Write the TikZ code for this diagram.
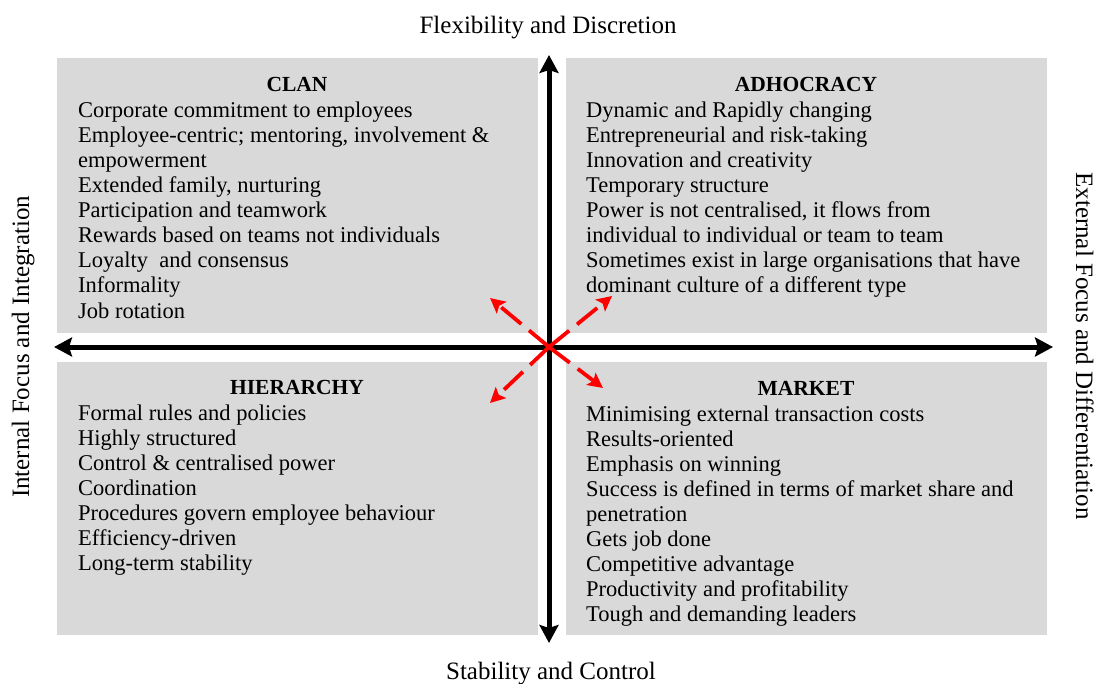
\documentclass[tikz,border=0pt]{standalone}
\usepackage{fontspec}
\setmainfont{Liberation Serif}
\usetikzlibrary{arrows.meta}

\definecolor{panelgray}{HTML}{D9D9D9}

\tikzset{
  panel/.style={fill=panelgray, draw=none, minimum width=481pt, anchor=north west, inner sep=0pt},
  head/.style={font=\fontsize{21.5}{25}\selectfont\bfseries, anchor=base, inner sep=0pt},
  item/.style={font=\fontsize{22.5}{25}\selectfont, anchor=base west, inner sep=0pt},
  axislabel/.style={font=\fontsize{25}{30}\selectfont, anchor=base, inner sep=0pt},
  axis/.style={line width=5pt, {Stealth[length=18pt,width=19pt,inset=3pt]}-{Stealth[length=18pt,width=19pt,inset=3pt]}},
  pull/.style={red, line width=3.8pt, dash pattern=on 26pt off 10pt, -{Stealth[length=15pt,width=15pt,inset=3pt]}}
}

\begin{document}
\begin{tikzpicture}[x=1pt,y=-1pt]
  \useasboundingbox (0,0) rectangle (1099,684);

  % four quadrants
  \node[panel, minimum height=275pt] (clan) at (57,58) {};
  \node[panel, minimum height=275pt] (adhocracy) at (566,58) {};
  \node[panel, minimum height=273pt] (hierarchy) at (57,362) {};
  \node[panel, minimum height=273pt] (market) at (566,362) {};

  \node[head] (clanhead) at (297,92) {CLAN};
  \node[head] (adhohead) at (806,92) {ADHOCRACY};
  \node[head] (hierhead) at (297,394) {HIERARCHY};
  \node[head] (markhead) at (806,395) {MARKET};

  \foreach \t [count=\i from 0] in {Corporate commitment to employees,
      {Employee-centric; mentoring, involvement \&}, empowerment,
      {Extended family, nurturing}, Participation and teamwork,
      Rewards based on teams not individuals, Loyalty\ \ and consensus,
      Informality, Job rotation}
    \node[item] (clan-\i) at (78,118+25*\i) {\t};

  \foreach \t [count=\i from 0] in {Dynamic and Rapidly changing,
      Entrepreneurial and risk-taking, Innovation and creativity,
      Temporary structure, {Power is not centralised, it flows from},
      individual to individual or team to team,
      Sometimes exist in large organisations that have,
      dominant culture of a different type}
    \node[item] (adho-\i) at (586,118+25*\i) {\t};

  \foreach \t [count=\i from 0] in {Formal rules and policies,
      Highly structured, Control \& centralised power, Coordination,
      Procedures govern employee behaviour, Efficiency-driven,
      Long-term stability}
    \node[item] (hier-\i) at (78,420+25*\i) {\t};

  \foreach \t [count=\i from 0] in {Minimising external transaction costs,
      Results-oriented, Emphasis on winning,
      Success is defined in terms of market share and, penetration,
      Gets job done, Competitive advantage, Productivity and profitability,
      Tough and demanding leaders}
    \node[item] (mark-\i) at (586,421+25*\i) {\t};

  % axes and their labels
  \node[axislabel] (flex) at (548,34) {Flexibility and Discretion};
  \node[axislabel] (stab) at (551,679) {Stability and Control};
  \node[axislabel, rotate=90] (internal) at (29,347) {Internal Focus and Integration};
  \node[axislabel, rotate=-90] (external) at (1076,346) {External Focus and Differentiation};

  \coordinate (north) at (549,55);
  \coordinate (south) at (549,643);
  \coordinate (west) at (54,347);
  \coordinate (east) at (1053,347);
  \draw[axis] (south) -- (north);
  \draw[axis] (west) -- (east);

  % pulls away from the middle
  \coordinate (hub) at (549,347);
  \coordinate (nw) at (490,298);
  \coordinate (ne) at (612,296);
  \coordinate (sw) at (490,403);
  \coordinate (se) at (603,388);
  \foreach \p in {nw,ne,sw,se}
    \draw[pull] (hub) -- (\p);
\end{tikzpicture}
\end{document}
